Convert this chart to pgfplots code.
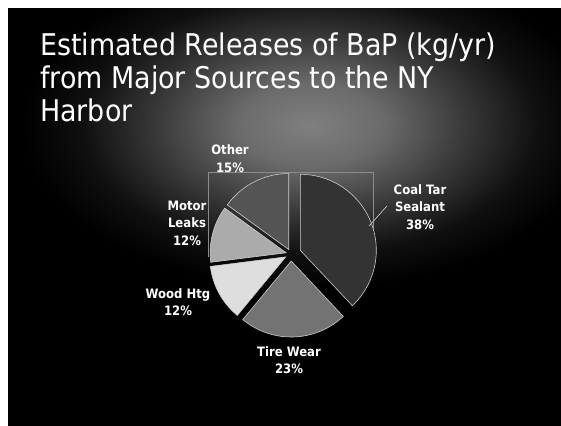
\documentclass[border=0pt]{standalone}
\usepackage{pgfplots}
\usepackage{pgfplotstable}
\pgfplotsset{compat=1.18}
\usepackage{fontspec}
\setmainfont{DejaVu Sans}
\newfontfamily\titlefont[FakeStretch=0.9]{DejaVu Sans}
\newfontfamily\labelfont[FakeStretch=0.9]{DejaVu Sans}

% slices clockwise from 12 o'clock: value (%), explode (px), lightness (% white)
\pgfplotstableread{
value ex lum
38 10 20
23 7 45
12 6 87
12 5 67
15 5 33
}\piedata

\pgfdeclareradialshading{glow}{\pgfpoint{0bp}{0bp}}{color(0bp)=(black!50); color(6bp)=(black!58); color(13bp)=(black!78); color(19bp)=(black!94); color(24bp)=(black); color(50bp)=(black)}

\begin{document}
\begin{tikzpicture}[x=1bp, y=1bp]
\useasboundingbox (0,0) rectangle (561,425);
\fill[black] (-30,-30) rectangle (600,460);
\shade[shading=glow] (310,300) ellipse [x radius=300, y radius=170];
\fill[white] (-30,417) rectangle (600,460);
\fill[white] (-30,-30) rectangle (8,460);
\begin{scope}[overlay]
\begin{axis}[hide axis, scale only axis, x=1bp, y=1bp,
  xmin=0, xmax=561, ymin=0, ymax=425, anchor=south west, at={(0,0)}]
% plot-area frame
\draw[white!55!black, line width=0.6pt] (axis cs:208,168) -- (axis cs:208,253) -- (axis cs:373,253) -- (axis cs:373,175);
% pie
\pgfplotsextra{%
  \gdef\curang{90}%
  \foreach \i in {0,...,4}{%
    \pgfplotstablegetelem{\i}{value}\of\piedata \let\sv\pgfplotsretval
    \pgfplotstablegetelem{\i}{ex}\of\piedata \let\se\pgfplotsretval
    \pgfplotstablegetelem{\i}{lum}\of\piedata \let\sl\pgfplotsretval
    \pgfmathsetmacro\sa{\curang}%
    \pgfmathsetmacro\sb{\curang-3.6*\sv}%
    \pgfmathsetmacro\sm{(\sa+\sb)/2}%
    \pgfmathsetmacro\ox{291+\se*cos(\sm)}%
    \pgfmathsetmacro\oy{171+\se*sin(\sm)}%
    \filldraw[fill=white!\sl!black, draw=white!80!black, line width=0.6pt]
      (axis cs:\ox,\oy) -- ++(\sa:76bp) arc[start angle=\sa, end angle=\sb, radius=76bp] -- cycle;
    \xdef\curang{\sb}%
  }%
}
% leader line
\draw[white!85!black, line width=0.6pt] (axis cs:387,219) -- (axis cs:369,199);
% labels
\begin{scope}[every node/.style={text=white, align=center, font=\labelfont\bfseries\fontsize{13}{17.5}\selectfont}]
\node at (axis cs:420,218) {Coal Tar\\Sealant\\38\%};
\node at (axis cs:289,65) {Tire Wear\\23\%};
\node at (axis cs:178,123) {Wood Htg\\12\%};
\node at (axis cs:187,202) {Motor\\Leaks\\12\%};
\node at (axis cs:230,266.5) {Other\\15\%};
\end{scope}
% title
\begin{scope}[every node/.style={text=white, anchor=base west, inner sep=0pt, font=\titlefont\fontsize{30}{33}\selectfont}]
\node at (axis cs:40,370) {Estimated Releases of BaP (kg/yr)};
\node at (axis cs:40,337) {from Major Sources to the NY};
\node at (axis cs:40,304) {Harbor};
\end{scope}
\end{axis}
\end{scope}
\end{tikzpicture}
\end{document}
